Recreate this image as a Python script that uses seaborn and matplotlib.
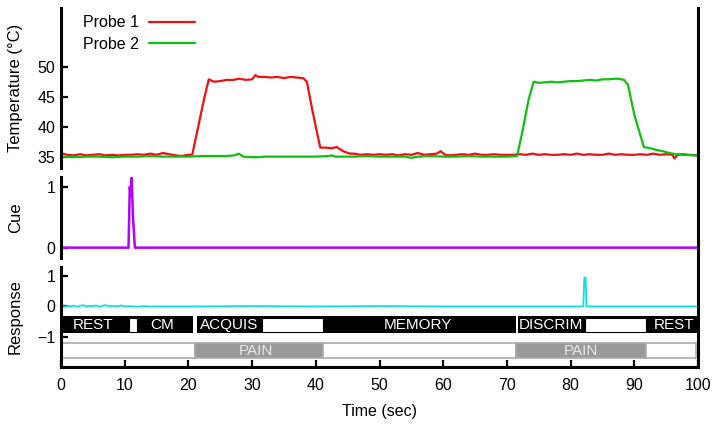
import numpy as np
import pandas as pd
import seaborn as sns
from matplotlib import pyplot as plt

# temperature traces (sec, deg C)
red_t = [0, 1, 2, 3, 4, 5, 6, 7, 8, 9, 10, 11, 12, 13, 14, 15, 16, 17, 18, 19,
         19.8, 20.6, 21.5, 22.5, 23.2, 24, 25, 26, 27, 28, 29, 30, 30.5, 31, 32,
         33, 34, 35, 36, 37, 38, 38.6, 39.5, 40.7, 41.5, 42.5, 43.3, 44.3, 45.3,
         46, 47, 48, 49, 50, 51, 52, 53, 54, 55, 56, 57, 58, 59, 59.6, 60.3, 61,
         62, 63, 64, 65, 66, 67, 68, 69, 70, 71, 72, 73, 74, 75, 76, 77, 78, 79,
         80, 81, 82, 83, 84, 85, 86, 87, 88, 89, 90, 91, 92, 93, 94, 95, 96,
         96.3, 96.8, 97.5, 98.5, 100]
red_v = [35.6, 35.3, 35.2, 35.4, 35.2, 35.3, 35.4, 35.2, 35.3, 35.2, 35.3, 35.3,
         35.4, 35.3, 35.5, 35.3, 35.6, 35.4, 35.2, 35.1, 35.3, 35.3, 39.8, 44.8,
         47.9, 47.5, 47.6, 47.8, 47.8, 48.0, 47.8, 47.9, 48.6, 48.3, 48.3, 48.2,
         48.3, 48.1, 48.3, 48.2, 48.1, 47.5, 42.5, 36.5, 36.5, 36.4, 36.6, 35.9,
         35.5, 35.5, 35.3, 35.4, 35.3, 35.4, 35.3, 35.4, 35.2, 35.4, 35.3, 35.6,
         35.3, 35.4, 35.5, 35.9, 35.3, 35.2, 35.3, 35.4, 35.3, 35.5, 35.3, 35.3,
         35.4, 35.3, 35.3, 35.3, 35.4, 35.3, 35.5, 35.3, 35.4, 35.3, 35.3, 35.4,
         35.3, 35.5, 35.3, 35.4, 35.3, 35.3, 35.5, 35.3, 35.4, 35.3, 35.3, 35.4,
         35.3, 35.5, 35.3, 35.4, 35.3, 34.7, 35.3, 35.4, 35.3, 35.2]

green_t = [0, 2, 4, 6, 8, 10, 12, 14, 16, 18, 20, 22, 24, 26, 27.2, 27.9, 28.6,
           30, 31, 32, 34, 36, 38, 40, 42, 42.5, 43, 44, 46, 48, 50, 52, 54, 55,
           56, 58, 60, 62, 64, 66, 68, 70, 71.6, 72.5, 73.4, 74.2, 75, 76, 77,
           78, 79, 80, 81, 82, 83, 84, 85, 86, 87, 87.5, 88.4, 89, 90, 91.5,
           92.5, 93.5, 94.5, 95.5, 96.5, 97.5, 100]
green_v = [35.0, 34.9, 35.0, 35.0, 34.9, 35.0, 35.0, 35.1, 35.0, 35.0,
           35.0, 35.1, 35.1, 35.1, 35.2, 35.5, 35.0, 34.9, 34.9, 35.0,
           35.0, 35.0, 35.0, 35.0, 35.1, 35.2, 35.0, 35.0, 35.0, 35.1,
           35.0, 35.0, 35.0, 34.8, 35.0, 35.1, 35.0, 35.0, 35.1, 35.0,
           35.0, 35.0, 35.1, 39.5, 44.5, 47.5, 47.3, 47.4, 47.5, 47.4,
           47.5, 47.6, 47.6, 47.7, 47.8, 47.7, 47.9, 47.9, 48.0, 48.0,
           47.8, 47.0, 42.0, 36.6, 36.4, 36.1, 35.9, 35.6, 35.4, 35.3,
           35.2]

cue_t = [0, 10.6, 10.8, 10.95, 11.1, 11.3, 11.6, 100]
cue_v = [0, 0, 1.0, 0.85, 1.15, 0.5, 0, 0]

resp_t = [0, 0.5, 1, 1.5, 2, 2.5, 3, 3.5, 4, 4.5, 5, 5.5, 6, 6.5, 7, 7.5, 8,
          8.5, 9, 9.5, 10, 11, 12, 13, 14, 20, 30, 40, 50, 60, 70, 80, 82.0,
          82.15, 82.35, 82.5, 90, 100]
resp_v = [0.01, -0.01, 0.02, 0.0, 0.03, -0.01, 0.02, 0.04, 0.0, 0.02, 0.01,
          0.03, -0.01, 0.02, 0.04, 0.0, 0.02, 0.0, 0.01, 0.03, 0.0, 0.01,
          -0.01, 0.01, 0.0, 0.0, 0.01, 0.0, 0.01, 0.0, 0.0, 0.0, 0.0, 0.95,
          0.95, 0.0, 0.0, 0.0]

# task and pain blocks
task_blocks = [(0, 20.7), (21.3, 71.4), (71.7, 100)]
task_gaps = [(10.6, 12.0), (31.5, 41.1), (82.2, 91.9)]
task_names = ['REST', 'CM', 'ACQUIS', 'MEMORY', 'DISCRIM', 'REST']
task_pos = [5.0, 15.8, 26.4, 56.0, 76.9, 96.2]
pain_spans = [(0, 21.0), (21.0, 41.1), (41.1, 71.5), (71.5, 91.8), (91.8, 99.7)]
pain_on = [False, True, False, True, False]
pain_pos = [30.6, 81.6]

sns.set_style("ticks")
plt.rcParams['font.family'] = ['Liberation Sans', 'DejaVu Sans']
plt.rcParams['font.size'] = 11
plt.rcParams['text.color'] = 'black'
plt.rcParams['axes.labelcolor'] = 'black'
plt.rcParams['xtick.color'] = 'black'
plt.rcParams['ytick.color'] = 'black'
plt.rcParams['axes.edgecolor'] = 'black'

fig = plt.figure(figsize=(7.24, 4.32), dpi=100)
L, W = 61 / 724, 637 / 724
ax_t = fig.add_axes([L, 1 - 168 / 432, W, 160 / 432])
ax_c = fig.add_axes([L, 1 - 258 / 432, W, 81 / 432])
ax_r = fig.add_axes([L, 1 - 367 / 432, W, 100 / 432])

temp = pd.concat([
    pd.DataFrame({'t': red_t, 'v': red_v, 'probe': 'Probe 1'}),
    pd.DataFrame({'t': green_t, 'v': green_v, 'probe': 'Probe 2'}),
])
sns.lineplot(data=temp, x='t', y='v', hue='probe', ax=ax_t, lw=1.6,
             palette={'Probe 1': '#f01010', 'Probe 2': '#10c010'})
sns.lineplot(x=cue_t, y=cue_v, ax=ax_c, color='#b400ff', lw=1.8)
sns.lineplot(x=resp_t, y=resp_v, ax=ax_r, color='#10e0e8', lw=1.3)

# behaviour bars
for a, b in task_blocks:
    ax_r.barh(-0.6, b - a, left=a, height=0.54, color='black', lw=0)
for a, b in task_gaps:
    ax_r.barh(-0.6, b - a, left=a, height=0.46, color='white',
              edgecolor='black', lw=0.8)
for name, x in zip(task_names, task_pos):
    ax_r.text(x, -0.6, name, color='white', ha='center', va='center',
              fontsize=11)
for (a, b), on in zip(pain_spans, pain_on):
    ax_r.barh(-1.46, b - a, left=a, height=0.5,
              color='#999999' if on else 'white', edgecolor='#aaaaaa', lw=1.2)
for x in pain_pos:
    ax_r.text(x, -1.46, 'PAIN', color='#e8e8e8', ha='center', va='center',
              fontsize=11)

ax_t.set_ylim(33.1, 59.8)
ax_t.set_yticks([35, 40, 45, 50])
ax_c.set_ylim(-0.17, 1.16)
ax_c.set_yticks([0, 1])
ax_r.set_ylim(-2.0, 1.3)
ax_r.set_yticks([-1, 0, 1])

for ax in (ax_t, ax_c, ax_r):
    ax.set_xlim(0, 100)
    ax.set_facecolor('none')
    for s in ('top', 'right', 'bottom'):
        ax.spines[s].set_visible(False)
    ax.spines['left'].set_linewidth(2.2)
    ax.tick_params(axis='y', direction='in', length=5, width=1.6, pad=4,
                   labelsize=11.5)
    ax.yaxis.set_label_coords(-0.06, 0.5)
    ax.set_xlabel('')
for ax in (ax_t, ax_c):
    ax.set_xticks([])

ax_r.spines['bottom'].set_visible(True)
ax_r.spines['bottom'].set_linewidth(2.2)
ax_r.set_xticks(range(0, 101, 10))
ax_r.tick_params(axis='x', direction='in', length=5, width=1.6, pad=8,
                 labelsize=11.5)
ax_r.set_xlabel('Time (sec)', fontsize=11.5, labelpad=8)

ax_t.set_ylabel('Temperature (°C)', fontsize=12)
ax_c.set_ylabel('Cue', fontsize=12)
ax_r.set_ylabel('Response', fontsize=12)

leg = ax_t.legend(loc='upper left', bbox_to_anchor=(0.025, 0.995),
                  frameon=False, markerfirst=False, handlelength=2.9,
                  handletextpad=0.6, labelspacing=0.4, fontsize=11.5,
                  borderaxespad=0)

# one right border through all three panels
frame = fig.add_axes([L, 1 - 367 / 432, W, 359 / 432])
frame.patch.set_visible(False)
frame.set_xticks([])
frame.set_yticks([])
for s in ('top', 'left', 'bottom'):
    frame.spines[s].set_visible(False)
frame.spines['right'].set_linewidth(2.2)

fig.savefig('out.png', dpi=100)
